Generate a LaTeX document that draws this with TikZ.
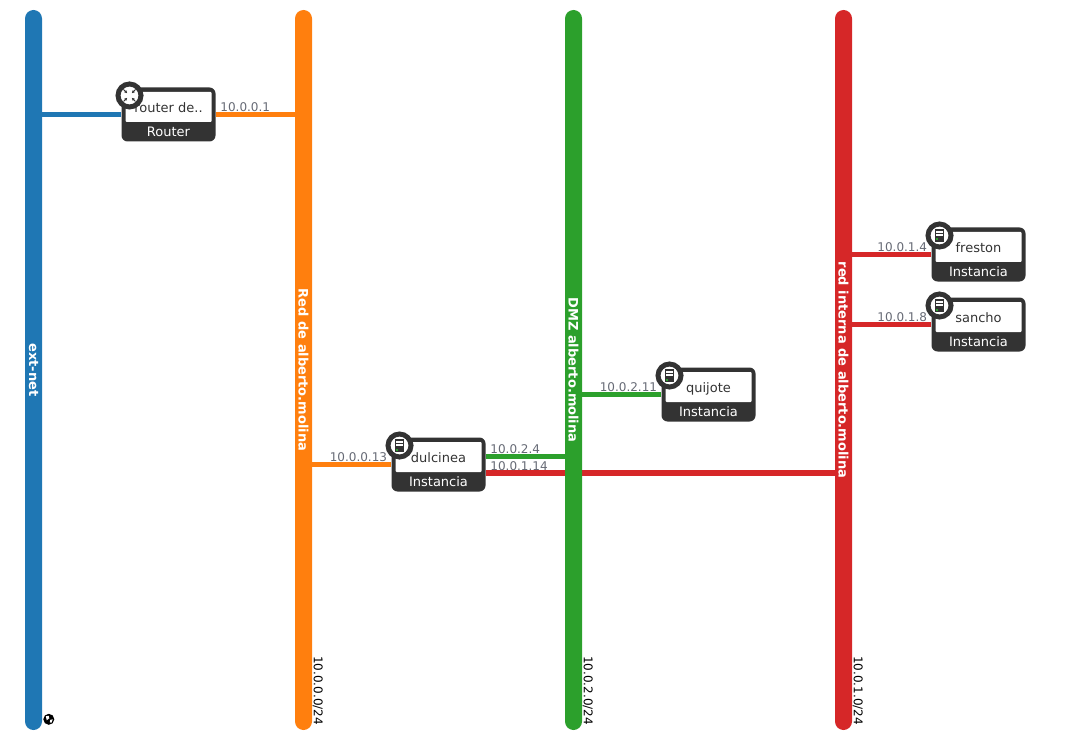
\documentclass[tikz,border=0pt]{standalone}
\usepackage{fontspec}
\setmainfont{DejaVu Sans}
\usetikzlibrary{arrows.meta}
\usetikzlibrary{backgrounds}
\definecolor{extblue}{HTML}{1F77B4}
\definecolor{netorange}{HTML}{FF7F0E}
\definecolor{netgreen}{HTML}{2CA02C}
\definecolor{netred}{HTML}{D62728}
\definecolor{devdark}{HTML}{333333}
\definecolor{addrgray}{HTML}{666A75}
\tikzset{
	netbar/.style={rectangle, rounded corners=8.5pt, rotate=-90, inner sep=0pt, minimum width=720pt, minimum height=17pt, text=white, font=\fontsize{13}{15}\selectfont\bfseries},
	cidr/.style={rotate=-90, anchor=south east, inner sep=0pt, text depth=0pt, text=black, font=\fontsize{12}{14}\selectfont},
	devbox/.style={rectangle, rounded corners=6pt, fill=devdark, inner sep=0pt, minimum width=94pt, minimum height=54pt},
	devname/.style={rectangle, rounded corners=1pt, fill=white, inner sep=0pt, minimum width=86pt, minimum height=30pt, text height=11.7pt, text depth=0.3pt, text=devdark, font=\fontsize{13}{15}\selectfont},
	devtype/.style={inner sep=0pt, text=white, font=\fontsize{13}{15}\selectfont},
	devicon/.style={circle, draw=devdark, line width=5pt, fill=white, inner sep=0pt, minimum size=23pt},
	ipaddr/.style={inner sep=0pt, text depth=0pt, text=addrgray, font=\fontsize{12}{14}\selectfont},
	ipright/.style={ipaddr, pos=0, anchor=south west, xshift=2pt, yshift=0pt},
	ipleft/.style={ipaddr, pos=0, anchor=south east, xshift=-1.5pt, yshift=0pt},
	link/.style={line width=5.5pt},
	serverglyph/.pic={
		\fill[devdark] (-4.9,-6.3) rectangle (4.9,6.3);
		\fill[white] (-3.2,-4.6) rectangle (3.2,-2.6);
		\fill[white] (-3.2,-1.2) rectangle (3.2,0.8);
		\fill[netgreen] (-3.3,3) rectangle (-1.3,5);
	},
	routerglyph/.pic={
		\draw[devdark, line width=1pt, -{Latex[length=3pt,width=3.2pt]}] (-6,-6) -- (-2.2,-2.2);
		\draw[devdark, line width=1pt, -{Latex[length=3pt,width=3.2pt]}] (6,-6) -- (2.2,-2.2);
		\draw[devdark, line width=1pt, -{Latex[length=3pt,width=3.2pt]}] (-6,6) -- (-2.2,2.2);
		\draw[devdark, line width=1pt, -{Latex[length=3pt,width=3.2pt]}] (6,6) -- (2.2,2.2);
	}
}
\begin{document}
\begin{tikzpicture}[x=1pt,y=-1pt]
	\useasboundingbox (0,0) rectangle (1090,746);
	% networks
	\node[netbar, fill=extblue] (ext) at (33.5,370) {ext-net};
	\node[netbar, fill=netorange] (redalberto) at (303.5,370) {Red de alberto.molina};
	\node[netbar, fill=netgreen] (dmz) at (573.5,370) {DMZ alberto.molina};
	\node[netbar, fill=netred] (interna) at (843.5,370) {red interna de alberto.molina};
	\node[cidr] (cidrorange) at ([xshift=1.5pt,yshift=5pt]redalberto.north east) {10.0.0.0/24};
	\node[cidr] (cidrgreen) at ([xshift=1.5pt,yshift=5pt]dmz.north east) {10.0.2.0/24};
	\node[cidr] (cidrred) at ([xshift=1.5pt,yshift=5pt]interna.north east) {10.0.1.0/24};
	% external network mark
	\node[circle, fill=black, inner sep=0pt, minimum size=11pt] (globe) at (48.8,719.3) {};
	\fill[white] (45.8,716.3) -- (48.8,715.8) -- (49.3,718.3) -- (46.8,720.3) -- cycle;
	\fill[white] (50.3,719.8) -- (52.8,719.3) -- (51.3,722.8) -- (49.8,722.3) -- cycle;
	% devices
	\node[devbox] (router) at (168.5,114.5) {};
	\node[devname] (routername) at ([yshift=7.5pt]router.center) {router de..};
	\node[devtype] (routertype) at ([yshift=-17pt]router.center) {Router};
	\node[devicon] (routericon) at (129.5,95.5) {};
	\pic at (routericon) {routerglyph};

	\node[devbox] (dulcinea) at (438.5,464.5) {};
	\node[devname] (dulcineaname) at ([yshift=7.5pt]dulcinea.center) {dulcinea};
	\node[devtype] (dulcineatype) at ([yshift=-17pt]dulcinea.center) {Instancia};
	\node[devicon] (dulcineaicon) at (399.5,445.5) {};
	\pic at (dulcineaicon) {serverglyph};

	\node[devbox] (quijote) at (708.5,394.5) {};
	\node[devname] (quijotename) at ([yshift=7.5pt]quijote.center) {quijote};
	\node[devtype] (quijotetype) at ([yshift=-17pt]quijote.center) {Instancia};
	\node[devicon] (quijoteicon) at (669.5,375.5) {};
	\pic at (quijoteicon) {serverglyph};

	\node[devbox] (freston) at (978.5,254.5) {};
	\node[devname] (frestonname) at ([yshift=7.5pt]freston.center) {freston};
	\node[devtype] (frestontype) at ([yshift=-17pt]freston.center) {Instancia};
	\node[devicon] (frestonicon) at (939.5,235.5) {};
	\pic at (frestonicon) {serverglyph};

	\node[devbox] (sancho) at (978.5,324.5) {};
	\node[devname] (sanchoname) at ([yshift=7.5pt]sancho.center) {sancho};
	\node[devtype] (sanchotype) at ([yshift=-17pt]sancho.center) {Instancia};
	\node[devicon] (sanchoicon) at (939.5,305.5) {};
	\pic at (sanchoicon) {serverglyph};

	\coordinate (dulcineagreen) at ([yshift=7.8pt]dulcinea.east);
	\coordinate (dulcineared) at ([yshift=-8.3pt]dulcinea.east);
	% links
	\begin{scope}[on background layer]
		\path[link, extblue]
		(router.west) edge (router.west -| ext.center)
		;
		\path[link, netorange]
		(router.east) edge node [ipright] {10.0.0.1} (router.east -| redalberto.center)
		(dulcinea.west) edge node [ipleft] {10.0.0.13} (dulcinea.west -| redalberto.center)
		;
		\path[link, netgreen]
		(dulcineagreen) edge node [ipright] {10.0.2.4} (dulcineagreen -| dmz.center)
		(quijote.west) edge node [ipleft] {10.0.2.11} (quijote.west -| dmz.center)
		;
		\path[link, netred]
		(dulcineared) edge node [ipright] {10.0.1.14} (dulcineared -| interna.center)
		(freston.west) edge node [ipleft] {10.0.1.4} (freston.west -| interna.center)
		(sancho.west) edge node [ipleft] {10.0.1.8} (sancho.west -| interna.center)
		;
	\end{scope}
\end{tikzpicture}
\end{document}
